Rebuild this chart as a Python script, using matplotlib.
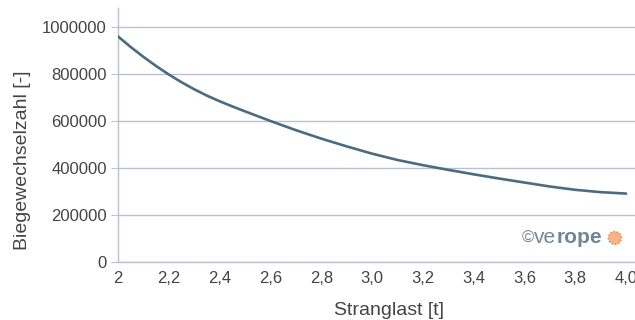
import matplotlib.pyplot as plt

# Stranglast [t] vs. Biegewechselzahl [-]
stranglast = [2.0, 2.05, 2.1, 2.15, 2.2, 2.25, 2.3, 2.35, 2.4, 2.45, 2.5,
              2.6, 2.7, 2.8, 2.9, 3.0, 3.1, 3.2, 3.3, 3.4, 3.5,
              3.6, 3.7, 3.8, 3.9, 4.0]
biegewechsel = [962000, 917000, 875000, 836000, 800000, 767000, 737000,
                710000, 686000, 664000, 643000, 602000, 563000, 527000,
                494000, 463000, 436000, 414000, 394000, 375000, 357000,
                340000, 323000, 309000, 299000, 293000]

y_ticks = [0, 200000, 400000, 600000, 800000, 1000000]
x_ticks = [2.0, 2.2, 2.4, 2.6, 2.8, 3.0, 3.2, 3.4, 3.6, 3.8, 4.0]
x_labels = ["2", "2,2", "2,4", "2,6", "2,8", "3,0", "3,2", "3,4", "3,6", "3,8", "4,0"]

plt.rcParams["font.family"] = ["Liberation Sans", "DejaVu Sans"]

LINE = "#4b6b82"
GRID = "#b9c1d1"
TEXT = "#444444"
LOGO = "#6f8798"
ORANGE = "#f08a4b"

fig = plt.figure(figsize=(6.35, 3.2), dpi=100)
ax = fig.add_axes([0.1858, 0.18, 0.8142, 0.795])

ax.plot(stranglast, biegewechsel, color=LINE, linewidth=1.9,
        solid_capstyle="round", solid_joinstyle="round", zorder=3)

ax.set_xlim(2.0, 4.035)
ax.set_ylim(0, 1083000)
ax.set_yticks(y_ticks)
ax.set_yticklabels([str(v) for v in y_ticks])
ax.set_xticks(x_ticks)
ax.set_xticklabels(x_labels)

ax.grid(axis="y", color=GRID, linewidth=1.0)
ax.set_axisbelow(True)
for side in ("top", "right"):
    ax.spines[side].set_visible(False)
for side in ("left", "bottom"):
    ax.spines[side].set_color(GRID)
    ax.spines[side].set_linewidth(1.0)

ax.tick_params(axis="y", length=5, color=GRID, labelcolor=TEXT, labelsize=12, pad=3)
ax.tick_params(axis="x", length=0, labelcolor=TEXT, labelsize=12, pad=6)

ax.set_ylabel("Biegewechselzahl [-]", color=TEXT, fontsize=14, labelpad=8)
ax.set_xlabel("Stranglast [t]", color=TEXT, fontsize=14, labelpad=12)
# labels sit a bit off-centre in the original
ax.yaxis.label.set_y(0.403)
ax.xaxis.label.set_x(0.524)

# logo watermark
ax.text(0.781, 0.096, "\u00a9", transform=ax.transAxes, color=LOGO, fontsize=12,
        va="center", ha="left")
ax.text(0.805, 0.096, "ve", transform=ax.transAxes, color=LOGO, fontsize=15,
        va="center", ha="left")
ax.text(0.849, 0.096, "rope", transform=ax.transAxes, color=LOGO, fontsize=15,
        fontweight="bold", va="center", ha="left")
ax.scatter([0.961], [0.096], transform=ax.transAxes, s=85, facecolor="#f9b48c",
           edgecolor=ORANGE, linewidth=1.2, linestyle=(0, (1, 1)), zorder=4, clip_on=False)

fig.savefig("out.png", dpi=100)
